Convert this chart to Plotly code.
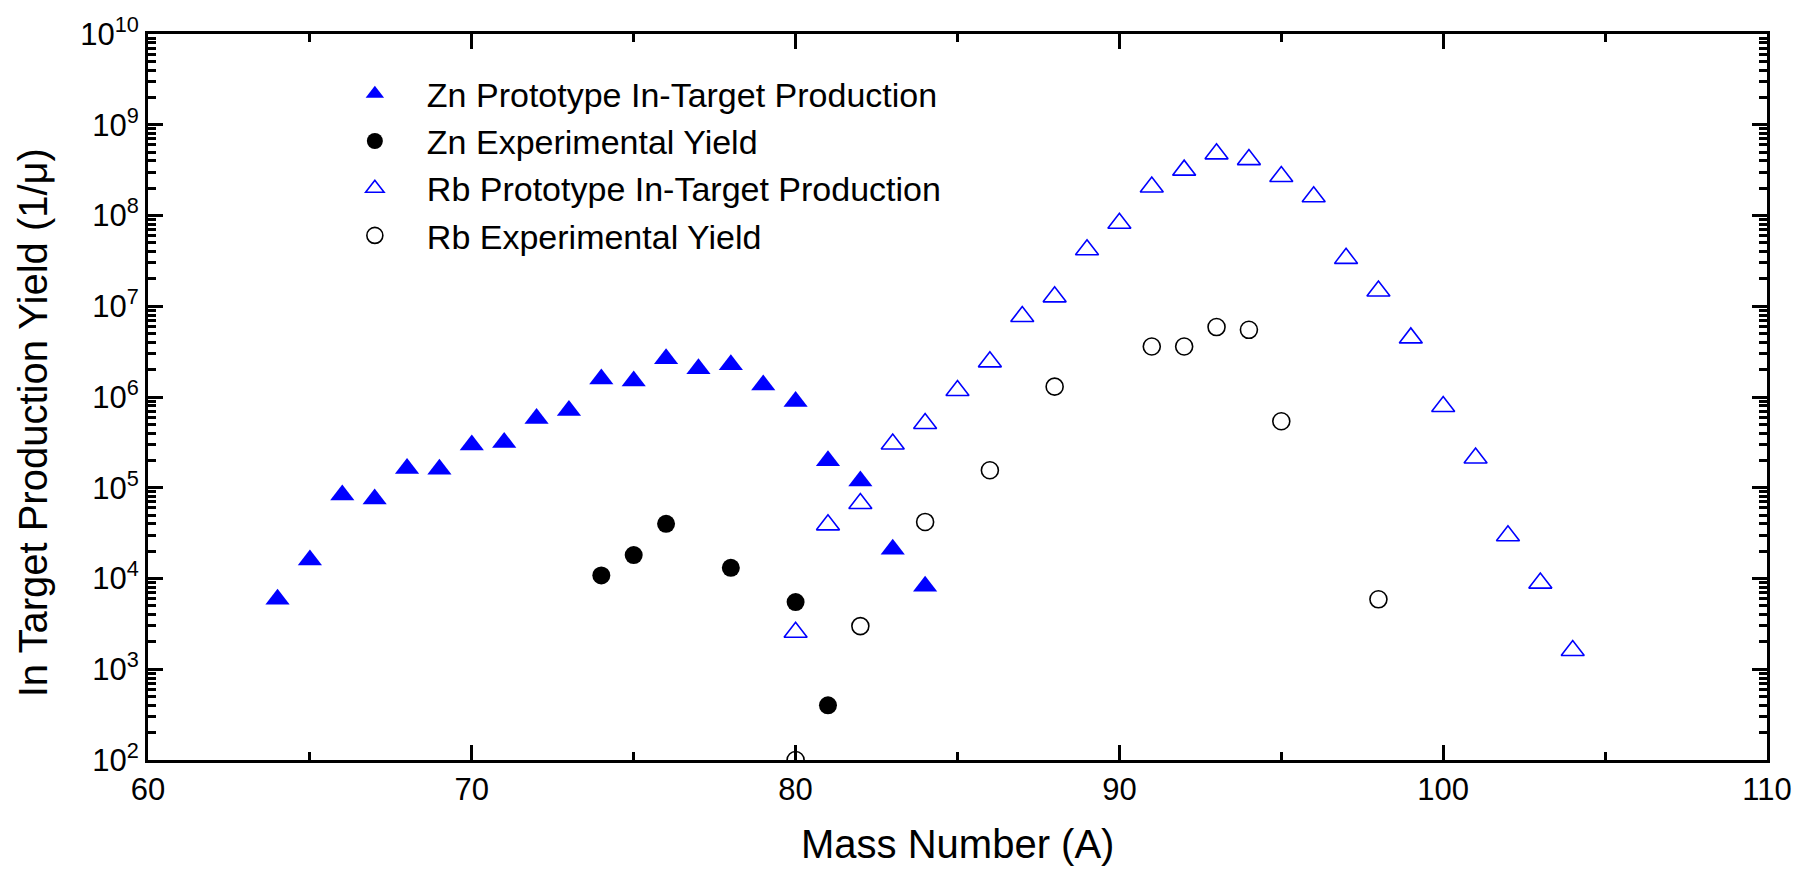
import plotly.graph_objects as go

# ---------------- data ----------------
zn_proto_A = [64, 65, 66, 67, 68, 69, 70, 71, 72, 73, 74, 75, 76, 77, 78, 79, 80, 81, 82, 83, 84]
zn_proto_Y = [5.9e3, 1.6e4, 8.3e4, 7.5e4, 1.63e5, 1.6e5, 2.95e5, 3.16e5, 5.8e5, 7.1e5,
              1.58e6, 1.5e6, 2.64e6, 2.05e6, 2.26e6, 1.36e6, 8.9e5, 1.98e5, 1.19e5, 2.1e4, 8.2e3]

zn_exp_A = [74, 75, 76, 78, 80, 81]
zn_exp_Y = [1.08e4, 1.81e4, 4.0e4, 1.31e4, 5.5e3, 4.0e2]

rb_proto_A = [80, 81, 82, 83, 84, 85, 86, 87, 88, 89, 90, 91, 92, 93, 94, 95, 96, 97, 98, 99,
              100, 101, 102, 103, 104]
rb_proto_Y = [2.56e3, 3.9e4, 6.7e4, 3.03e5, 5.1e5, 1.18e6, 2.44e6, 7.7e6, 1.27e7, 4.2e7,
              8.2e7, 2.06e8, 3.16e8, 4.78e8, 4.13e8, 2.69e8, 1.61e8, 3.37e7, 1.47e7, 4.48e6,
              7.85e5, 2.13e5, 2.96e4, 8.9e3, 1.61e3]

rb_exp_A = [80, 82, 84, 86, 88, 91, 92, 93, 94, 95, 98]
rb_exp_Y = [1.0e2, 2.99e3, 4.2e4, 1.56e5, 1.30e6, 3.6e6, 3.6e6, 5.9e6, 5.5e6, 5.4e5, 5.9e3]

series_names = ["Zn Prototype In-Target Production", "Zn Experimental Yield",
                "Rb Prototype In-Target Production", "Rb Experimental Yield"]

y_tick_vals = [1e2, 1e3, 1e4, 1e5, 1e6, 1e7, 1e8, 1e9, 1e10]
y_tick_text = ["10<sup>2</sup>", "10<sup>3</sup>", "10<sup>4</sup>", "10<sup>5</sup>",
               "10<sup>6</sup>", "10<sup>7</sup>", "10<sup>8</sup>", "10<sup>9</sup>",
               "10<sup>10</sup>"]
x_tick_vals = [60, 70, 80, 90, 100, 110]

x_title = "Mass Number (A)"
y_title = "In Target Production Yield (1/\u03bc)"

# ---------------- styling ----------------
FONT = "Liberation Sans, Arial, sans-serif"
BLUE = "#0000FF"

minor_y = [m * d for d in y_tick_vals[:-1] for m in range(2, 10)]

fig = go.Figure()
fig.add_trace(go.Scatter(x=zn_proto_A, y=zn_proto_Y, mode="markers", name=series_names[0],
                         marker=dict(symbol="triangle-up", size=21, color=BLUE,
                                     line=dict(width=0))))
fig.add_trace(go.Scatter(x=zn_exp_A, y=zn_exp_Y, mode="markers", name=series_names[1],
                         marker=dict(symbol="circle", size=18, color="black",
                                     line=dict(width=0))))
fig.add_trace(go.Scatter(x=rb_proto_A, y=rb_proto_Y, mode="markers", name=series_names[2],
                         marker=dict(symbol="triangle-up", size=20, color="white",
                                     line=dict(width=1.6, color=BLUE))))
fig.add_trace(go.Scatter(x=rb_exp_A, y=rb_exp_Y, mode="markers", name=series_names[3],
                         marker=dict(symbol="circle", size=17, color="white",
                                     line=dict(width=1.6, color="black"))))

axis_common = dict(showline=True, linewidth=3, linecolor="black", mirror="ticks",
                   ticks="inside", ticklen=15, tickwidth=3, tickcolor="black",
                   showgrid=False, zeroline=False)

fig.update_layout(
    width=1804, height=870,
    margin=dict(l=148, r=35, t=27, b=110),
    paper_bgcolor="white", plot_bgcolor="white",
    font=dict(family=FONT, size=30, color="black"),
    showlegend=True,
    xaxis=dict(range=[60, 110], tickmode="array", tickvals=x_tick_vals,
               tickfont=dict(size=31),
               minor=dict(dtick=5, tick0=60, ticks="inside", ticklen=8, tickwidth=3,
                          tickcolor="black", showgrid=False),
               **axis_common),
    yaxis=dict(type="log", range=[2, 10], tickmode="array", tickvals=y_tick_vals,
               ticktext=y_tick_text, tickfont=dict(size=31),
               minor=dict(tickmode="array", tickvals=minor_y, ticks="inside", ticklen=8,
                          tickwidth=3, tickcolor="black", showgrid=False),
               **axis_common),
    legend=dict(x=0.108, y=0.957, xanchor="left", yanchor="top",
                bgcolor="rgba(0,0,0,0)", borderwidth=0,
                font=dict(size=34, family=FONT), itemwidth=94),
    annotations=[
        dict(text=x_title, xref="paper", yref="paper", x=0.5, y=-0.116,
             xanchor="center", yanchor="middle", showarrow=False,
             font=dict(size=40, family=FONT)),
        dict(text=y_title, xref="paper", yref="paper", x=-0.0709, y=0.464,
             xanchor="center", yanchor="middle", showarrow=False, textangle=-90,
             font=dict(size=40, family=FONT)),
    ],
)

fig.write_html("out.html")
